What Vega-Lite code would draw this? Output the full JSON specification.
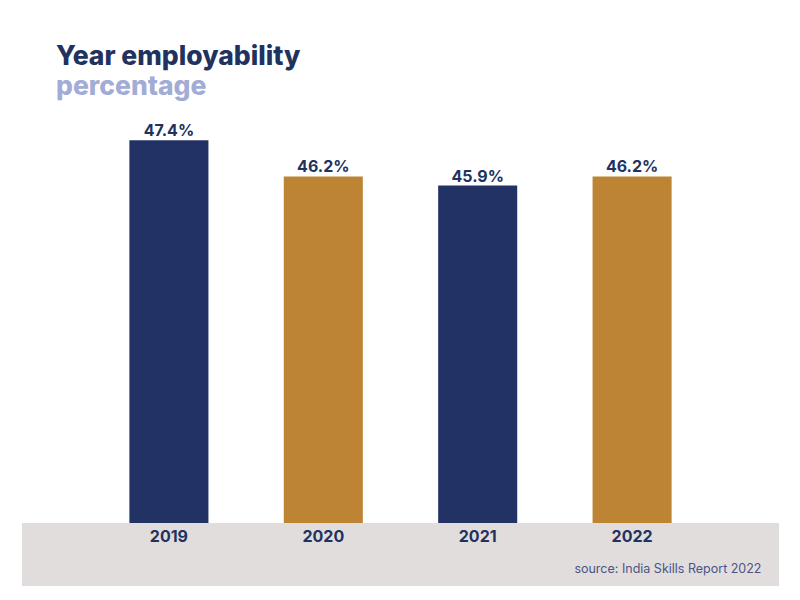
{
  "$schema": "https://vega.github.io/schema/vega-lite/v6.json",
  "width": 757,
  "height": 466,
  "autosize": {"type": "none"},
  "padding": {"left": 22, "top": 120, "right": 21, "bottom": 14},
  "background": "white",
  "config": {"view": {"stroke": null}, "font": "Inter"},
  "title": {
    "text": "Year employability",
    "subtitle": "percentage",
    "anchor": "start",
    "frame": "group",
    "dx": 34,
    "offset": 20,
    "font": "Inter",
    "fontSize": 26.5,
    "fontWeight": 800,
    "color": "#22325f",
    "subtitleFont": "Inter",
    "subtitleFontSize": 26.5,
    "subtitleFontWeight": 800,
    "subtitleColor": "#a3acd6",
    "subtitlePadding": 3
  },
  "layer": [
    {
      "data": {"values": [{"part": "base"}]},
      "mark": {"type": "rect", "color": "#e2dddd"},
      "encoding": {
        "y": {"datum": 34.7, "type": "quantitative", "scale": {"domain": [32.61, 48.075], "zero": false, "nice": false}, "axis": null},
        "y2": {"datum": 32.61}
      }
    },
    {
      "data": {
        "values": [
          {"year": "2019", "value": 47.4},
          {"year": "2020", "value": 46.2},
          {"year": "2021", "value": 45.9},
          {"year": "2022", "value": 46.2}
        ]
      },
      "transform": [{"calculate": "format(datum.value, '.1f') + '%'", "as": "label"}],
      "encoding": {
        "x": {
          "field": "year",
          "type": "nominal",
          "scale": {"paddingInner": 0.488, "paddingOuter": 0.6955},
          "axis": {
            "orient": "bottom",
            "zindex": 1,
            "domain": false,
            "ticks": false,
            "tickSize": 0,
            "labelPadding": -44.5,
            "labelBaseline": "alphabetic",
            "labelAngle": 0,
            "labelFont": "Inter",
            "labelFontSize": 16,
            "labelFontWeight": 700,
            "labelColor": "#22325f",
            "title": "source: India Skills Report 2022",
            "titleFont": "Inter",
            "titleFontSize": 12.5,
            "titleFontWeight": 400,
            "titleColor": "#4a5585",
            "titleAnchor": "end",
            "titleAlign": "right",
            "titleBaseline": "alphabetic",
            "titleX": 739,
            "titleY": -14
          }
        },
        "y": {"field": "value", "type": "quantitative", "scale": {"domain": [32.61, 48.075], "zero": false, "nice": false}, "axis": null}
      },
      "layer": [
        {
          "mark": {"type": "bar"},
          "encoding": {
            "y2": {"datum": 34.7},
            "color": {
              "field": "year",
              "type": "nominal",
              "scale": {"domain": ["2019", "2020", "2021", "2022"], "range": ["#223264", "#bd8533", "#223264", "#bd8533"]},
              "legend": null
            }
          }
        },
        {
          "mark": {"type": "text", "baseline": "alphabetic", "dy": -4, "font": "Inter", "fontSize": 16, "fontWeight": 700, "color": "#22325f"},
          "encoding": {"text": {"field": "label"}}
        }
      ]
    }
  ]
}
